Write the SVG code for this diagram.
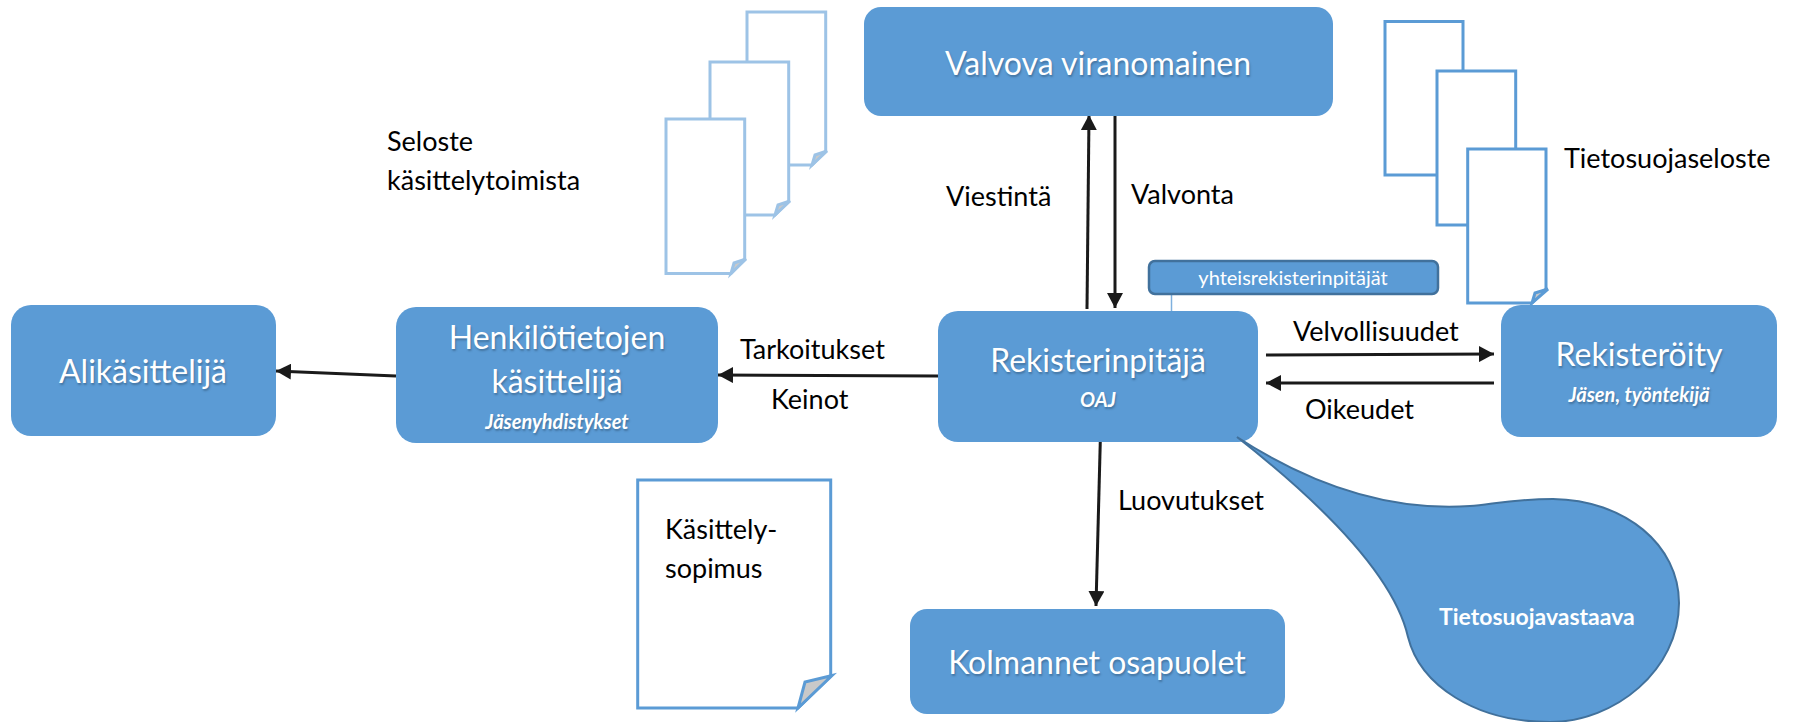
<svg xmlns="http://www.w3.org/2000/svg" width="1814" height="722" viewBox="0 0 1814 722">
<style>
text{font-family:"Lato","Carlito","Open Sans",sans-serif}
.n{fill:#5b9bd5}
.w{fill:#fff;text-anchor:middle;text-shadow:1px 2px 2px rgba(40,70,100,.45)}
.t{font-size:32px;font-weight:400}
.s{font-size:20px;font-weight:700;font-style:italic}
.b{fill:#000;font-size:27px}
.d1,.d2,.d3{fill:#fff;stroke-width:3}
.d1{stroke:#9dc3e6}.d2{stroke:#5b9bd5}
.f{fill:#c9c9c9;stroke-width:3}
.c{fill:none;stroke:#1a1a1a;stroke-width:3}
</style>
<defs>
<marker id="a" markerUnits="userSpaceOnUse" markerWidth="16" markerHeight="16" refX="15" refY="8" orient="auto"><path d="M0,0L15,8L0,16Z" fill="#1a1a1a"/></marker>
</defs>
<g id="doc-seloste">
<path class="d1" d="M747,12H825.7V151L812,165H747Z"/><path class="f" stroke="#9dc3e6" d="M812,165L815,155L827,151Z"/>
<path class="d1" d="M710,62H788.7V201L775,215H710Z"/><path class="f" stroke="#9dc3e6" d="M775,215L778,205L790,201Z"/>
<path class="d1" d="M666,119H744.7V259L731,273.5H666Z"/><path class="f" stroke="#9dc3e6" d="M731,273.5L734,263L746,259Z"/>
<text class="b"><tspan x="387" y="151">Seloste</tspan><tspan x="387" y="190">käsittelytoimista</tspan></text>
</g>
<g id="doc-tietosuojaseloste">
<path class="d2" d="M1385,21.500H1463V175H1385Z"/>
<path class="d2" d="M1437,71H1515.700V225H1437Z"/>
<path class="d2" d="M1467.700,149H1546V289L1532,303H1467.700Z"/><path class="f" stroke="#5b9bd5" d="M1532,303L1535,293L1548,289Z"/>
<text class="b" x="1564" y="168">Tietosuojaseloste</text>
</g>
<g id="doc-sopimus">
<path class="d2" d="M637.700,480H830.700V676L798,708H637.700Z"/><path class="f" stroke="#5b9bd5" d="M798,708L805,682L832,675.500Z"/>
<text class="b"><tspan x="665" y="539">Käsittely-</tspan><tspan x="665" y="578">sopimus</tspan></text>
</g>
<g id="connectors">
<path class="c" marker-end="url(#a)" d="M1087,309L1089,115"/>
<path class="c" marker-end="url(#a)" d="M1115,116V308"/>
<path class="c" marker-end="url(#a)" d="M1266,355L1494,354"/>
<path class="c" marker-end="url(#a)" d="M1494,383H1266"/>
<path class="c" marker-end="url(#a)" d="M938,376L718,375"/>
<path class="c" marker-end="url(#a)" d="M396,376L276,371"/>
<path class="c" marker-end="url(#a)" d="M1101,414L1096,606"/>
<text class="b" x="946" y="206">Viestintä</text>
<text class="b" x="1131" y="204">Valvonta</text>
<text class="b" x="1293" y="341">Velvollisuudet</text>
<text class="b" x="1305" y="419">Oikeudet</text>
<text class="b" x="740" y="359">Tarkoitukset</text>
<text class="b" x="771" y="409">Keinot</text>
<text class="b" x="1118" y="510">Luovutukset</text>
</g>
<g id="valvova"><rect class="n" x="864" y="7" width="469" height="109" rx="17"/><text class="w t" x="1098" y="75" font-size="32">Valvova viranomainen</text></g>
<g id="alikasittelija"><rect class="n" x="11" y="305" width="265" height="131" rx="20"/><text class="w t" x="143" y="383">Alikäsittelijä</text></g>
<g id="henkilotietojen"><rect class="n" x="396" y="307" width="322" height="136" rx="20"/><text class="w t"><tspan x="557" y="349">Henkilötietojen</tspan><tspan x="557" y="393">käsittelijä</tspan></text><text class="w s" x="557" y="429">Jäsenyhdistykset</text></g>
<g id="rekisterinpitaja"><rect class="n" x="938" y="311" width="320" height="131" rx="20"/><text class="w t" x="1098" y="372">Rekisterinpitäjä</text><text class="w s" x="1098" y="407">OAJ</text></g>
<g id="yhteisrekisterinpitajat"><path d="M1171.500,294V311" stroke="#7fb0de" stroke-width="1.500"/><rect class="n" x="1149" y="261" width="289" height="33" rx="6" stroke="#41719c" stroke-width="2.500"/><text class="w" x="1293" y="285" font-size="20" style="text-shadow:none">yhteisrekisterinpitäjät</text></g>
<g id="rekisteroity"><rect class="n" x="1501" y="305" width="276" height="132" rx="20"/><text class="w t" x="1639" y="366">Rekisteröity</text><text class="w s" x="1639" y="402">Jäsen, työntekijä</text></g>
<g id="kolmannet"><rect class="n" x="910" y="609" width="375" height="105" rx="17"/><text class="w t" x="1097" y="674">Kolmannet osapuolet</text></g>
<g id="tietosuojavastaava"><path class="n" stroke="#41719c" stroke-width="2" d="M1237,437C1300,478 1380,512 1470,506C1490,505 1510,499 1553,499C1625,500 1679,545 1679,603C1679,670 1615,722 1550,722C1475,722 1420,685 1408,637C1395,580 1330,510 1237,437Z"/><text class="w" x="1439" y="625" font-size="23" font-weight="700" style="text-anchor:start;text-shadow:none">Tietosuojavastaava</text></g>
</svg>
